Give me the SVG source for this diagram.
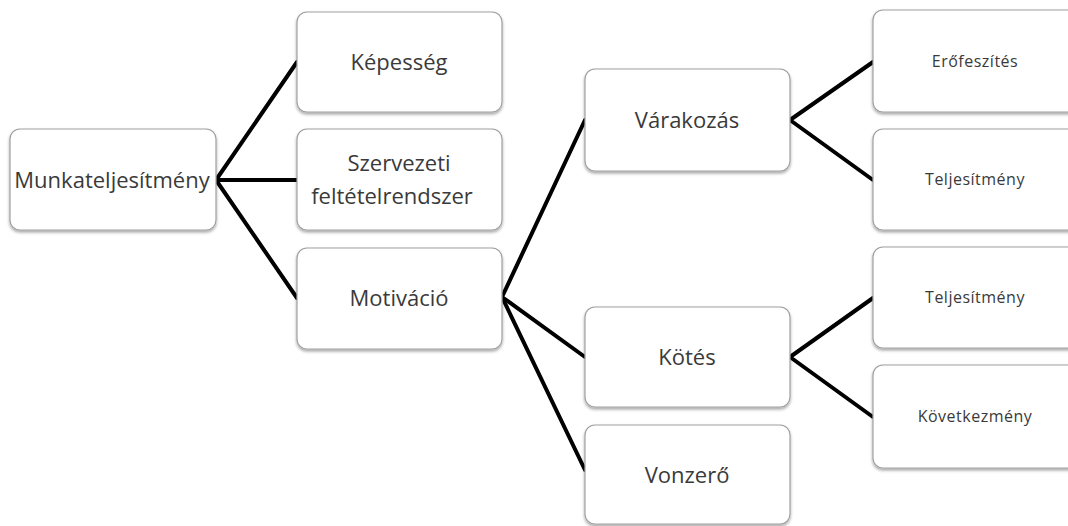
<svg xmlns="http://www.w3.org/2000/svg" width="1068" height="526" viewBox="0 0 1068 526">
<defs>
<filter id="sh" x="-10%" y="-10%" width="120%" height="130%">
<feDropShadow dx="0" dy="2" stdDeviation="1.5" flood-color="#000" flood-opacity="0.35"/>
</filter>
</defs>
<style>
.box{fill:#fff;stroke:#a0a0a0;stroke-width:1.2;filter:url(#sh)}
.t{font-family:"Open Sans","Noto Sans",sans-serif;fill:#3a3a3a;text-anchor:middle;dominant-baseline:central}
.L{font-size:22px}
.S{font-size:16px;letter-spacing:0.5px}
.c{stroke:#000;stroke-width:4;fill:none;stroke-linecap:round;stroke-linejoin:round}
</style>
<rect width="1068" height="526" fill="#fff"/>
<g id="connectors">
<polyline class="c" points="297,62 216,180 297,298"/>
<line class="c" x1="216" y1="180" x2="297" y2="180"/>
<polyline class="c" points="585,120 502,297 585,357"/>
<line class="c" x1="502" y1="297" x2="585" y2="470"/>
<polyline class="c" points="873,62 790,120 873,180"/>
<polyline class="c" points="873,298 790,357 873,417"/>
</g>
<g id="munkateljesitmeny"><rect class="box" x="10" y="129" width="206" height="101" rx="10"/><text class="t L" x="112" y="179">Munkateljesítmény</text></g>
<g id="kepesseg"><rect class="box" x="297" y="12" width="205" height="100" rx="10"/><text class="t L" x="399" y="61">Képesség</text></g>
<g id="szervezeti"><rect class="box" x="297" y="129" width="205" height="101" rx="10"/><text class="t L" x="399" y="162">Szervezeti</text><text class="t L" x="392" y="195">feltételrendszer</text></g>
<g id="motivacio"><rect class="box" x="297" y="248" width="205" height="101" rx="10"/><text class="t L" x="399" y="297">Motiváció</text></g>
<g id="varakozas"><rect class="box" x="585" y="69" width="205" height="102" rx="10"/><text class="t L" x="687" y="119">Várakozás</text></g>
<g id="kotes"><rect class="box" x="585" y="307" width="205" height="100" rx="10"/><text class="t L" x="687" y="356">Kötés</text></g>
<g id="vonzero"><rect class="box" x="585" y="425" width="205" height="99" rx="10"/><text class="t L" x="687" y="474">Vonzerő</text></g>
<g id="erofeszites"><rect class="box" x="873" y="10" width="205" height="102" rx="10"/><text class="t S" x="975" y="61">Erőfeszítés</text></g>
<g id="teljesitmeny1"><rect class="box" x="873" y="129" width="205" height="101" rx="10"/><text class="t S" x="975" y="179">Teljesítmény</text></g>
<g id="teljesitmeny2"><rect class="box" x="873" y="247" width="205" height="101" rx="10"/><text class="t S" x="975" y="297">Teljesítmény</text></g>
<g id="kovetkezmeny"><rect class="box" x="873" y="365" width="205" height="103" rx="10"/><text class="t S" x="975" y="416">Következmény</text></g>
</svg>
